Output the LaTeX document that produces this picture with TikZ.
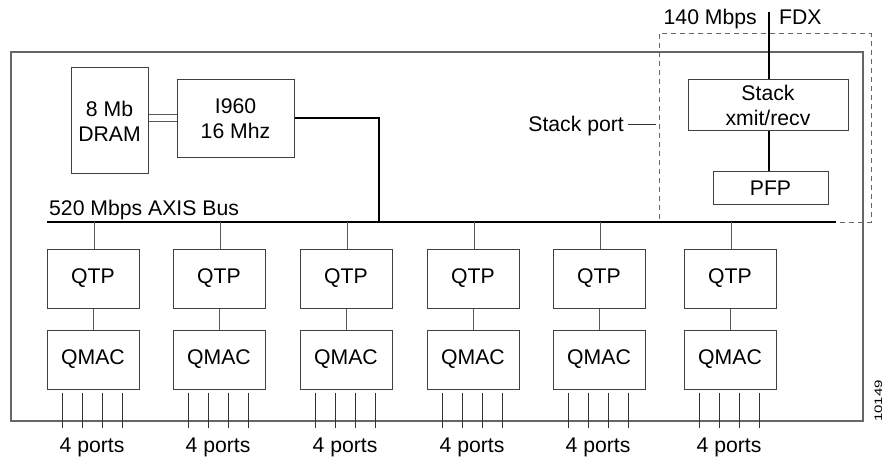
\documentclass[tikz,border=0pt]{standalone}
\usepackage{fontspec}
\setmainfont{Liberation Sans}
\begin{document}
\begin{tikzpicture}[x=1pt,y=-1pt,
  every node/.style={font=\fontsize{21.2}{25}\selectfont, text=black},
  blk/.style={draw=black!75, line width=1pt, inner sep=0pt, align=center},
  thin/.style={draw=black!65, line width=1pt},
  busline/.style={draw=black, line width=2.2pt},
  fat/.style={draw=black, line width=2pt},
  outer/.style={draw=black!60, line width=1.2pt},
  dashbox/.style={draw=black!60, line width=1pt, dash pattern=on 5pt off 4pt},
  portline/.style={draw=black!80, line width=0.8pt},
  lbl/.style={inner sep=0pt}]
\useasboundingbox (0,0) rectangle (883,457);

% outer board
\draw[outer] (11,52) rectangle (863,421);

% dashed stack-port region
\draw[dashbox] (659,34) rectangle (871,222);

% DRAM and CPU
\node[blk, minimum width=77pt, minimum height=106pt] (dram) at (109.5,121) {8 Mb\\DRAM};
\node[blk, minimum width=117pt, minimum height=78pt] (cpu) at (235.5,119) {I960\\16 Mhz};
\draw[thin] ([yshift=4pt]cpu.west) -- ([yshift=4pt]cpu.west -| dram.east);
\draw[thin] ([yshift=-3pt]cpu.west) -- ([yshift=-3pt]cpu.west -| dram.east);

% bus
\coordinate (busL) at (47,222);
\coordinate (busR) at (836,222);
\coordinate (busJ) at (379,222);
\draw[busline] (busL) -- (busR);
\node[lbl, anchor=base west] (buslbl) at (49,215) {520 Mbps AXIS Bus};
\draw[fat] ([yshift=1pt]cpu.east) -| (busJ);

% stack port
\node[blk, minimum width=160pt, minimum height=51pt] (stack) at (768,105.5) {Stack\\xmit/recv};
\node[blk, minimum width=115pt, minimum height=33pt] (pfp) at (770.5,188.5) {PFP};
\coordinate (ext) at (769,12);
\draw[fat] (ext) -- (ext |- stack.north);
\draw[fat] (ext |- stack.south) -- (ext |- pfp.north);
\node[lbl, anchor=base east] (rate) at (757,25) {140 Mbps};
\node[lbl, anchor=base west] (fdx) at (779,25) {FDX};
\node[lbl, anchor=base east] (sp) at (624,132) {Stack port};
\coordinate (spa) at (628,125);
\coordinate (spb) at (656,125);
\draw[thin, draw=black!80] (spa) -- (spb);

% port columns
\foreach \i/\xl in {1/47, 2/173, 3/300, 4/427, 5/553, 6/684} {
  \node[blk, minimum width=92pt, minimum height=59pt] (qtp\i) at (\xl+46,278.5) {QTP};
  \node[blk, minimum width=92pt, minimum height=59pt] (qmac\i) at (\xl+46,359.5) {QMAC};
  \draw[thin] ([xshift=1pt]qtp\i.north) -- ([xshift=1pt]qtp\i.north |- busL);
  \draw[thin] (qtp\i.south) -- (qmac\i.north);
  \foreach \k in {0,1,2,3} {
    \coordinate (p\i\k) at (\xl+15+20*\k,428);
    \draw[portline] ([yshift=-3pt]qmac\i.south west -| p\i\k) -- (p\i\k);
  }
  \node[lbl, anchor=base] (ports\i) at (\xl+45,452) {4 ports};
}

% figure number
\node[lbl, rotate=90, font=\fontsize{15}{18}\selectfont] (fignum) at (878.5,401) {\scalebox{1}[0.72]{10149}};
\end{tikzpicture}
\end{document}
